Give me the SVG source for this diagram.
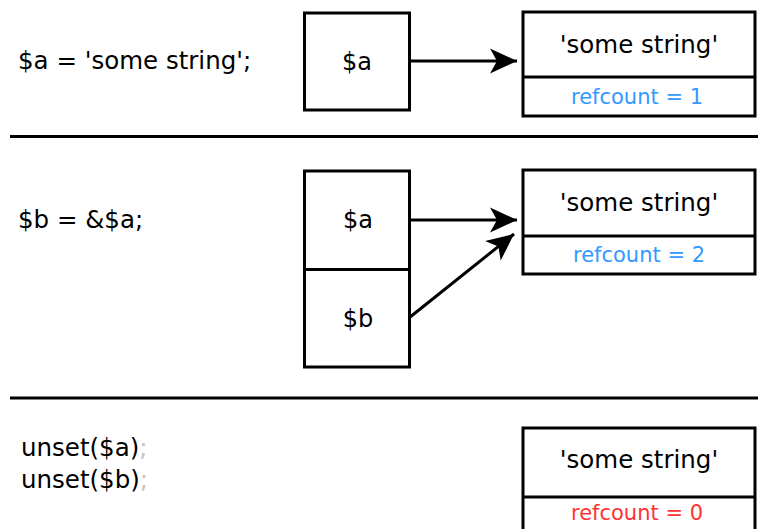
<svg xmlns="http://www.w3.org/2000/svg" width="758" height="529" viewBox="0 0 758 529">
  <style>
    text { font-family: "DejaVu Sans", "Verdana", sans-serif; fill: #000; }
    .code { font-size: 24.5px; }
    .var { font-size: 24px; text-anchor: middle; }
    .val { font-size: 24.5px; text-anchor: middle; }
    .rc { font-size: 21px; text-anchor: middle; }
    .rc-live { fill: #3399ff; }
    .rc-dead { fill: #ff3333; }
    .faint { fill: #c4c4c4; }
    .box { fill: #fff; stroke: #000; stroke-width: 3; }
    .div { stroke: #000; stroke-width: 3; }
    .sep { stroke: #000; stroke-width: 3; }
    .edge { fill: none; stroke: #000; stroke-width: 3; }
  </style>
  <defs>
    <marker id="arrow" markerUnits="userSpaceOnUse" markerWidth="30" markerHeight="28" refX="28" refY="13" orient="auto" viewBox="0 0 30 28">
      <path d="M28,13 L1,0.5 L8,13 L1,25.5 Z" fill="#000"/>
    </marker>
  </defs>

  <rect width="758" height="529" fill="#fff"/>

  <!-- section dividers -->
  <g id="separators">
    <line class="sep" x1="10" y1="136.5" x2="758" y2="136.5"/>
    <line class="sep" x1="10" y1="398" x2="758" y2="398"/>
  </g>

  <!-- code statements -->
  <g id="code">
    <text class="code" x="18" y="69">$a = 'some string';</text>
    <text class="code" x="18" y="228">$b = &amp;$a;</text>
    <text class="code" x="21" y="456">unset($a)<tspan class="faint">;</tspan></text>
    <text class="code" x="21" y="488">unset($b)<tspan class="faint">;</tspan></text>
  </g>

  <!-- step 1: $a -> zval -->
  <g id="var-a1">
    <rect class="box" x="304.5" y="13" width="105" height="97"/>
    <text class="var" x="357" y="70">$a</text>
  </g>
  <g id="zval-1">
    <rect class="box" x="523" y="12" width="232" height="104"/>
    <line class="div" x1="523" y1="77" x2="755" y2="77"/>
    <text class="val" x="639" y="53">'some string'</text>
    <text class="rc rc-live" x="637" y="104">refcount = 1</text>
  </g>

  <!-- step 2: $a and $b -> shared zval -->
  <g id="vars-ab">
    <rect class="box" x="304.5" y="171" width="105" height="196"/>
    <line class="div" x1="304.5" y1="269.5" x2="409.5" y2="269.5"/>
    <text class="var" x="358" y="228">$a</text>
    <text class="var" x="358" y="327">$b</text>
  </g>
  <g id="zval-2">
    <rect class="box" x="523" y="170" width="232" height="104"/>
    <line class="div" x1="523" y1="236" x2="755" y2="236"/>
    <text class="val" x="639" y="211">'some string'</text>
    <text class="rc rc-live" x="639" y="262">refcount = 2</text>
  </g>

  <!-- step 3: orphaned zval -->
  <g id="zval-3">
    <rect class="box" x="523" y="428" width="232" height="110"/>
    <line class="div" x1="523" y1="497" x2="755" y2="497"/>
    <text class="val" x="639" y="468">'some string'</text>
    <text class="rc rc-dead" x="637" y="520">refcount = 0</text>
  </g>

  <!-- references -->
  <g id="connectors">
    <line class="edge" x1="409.5" y1="61" x2="517" y2="61" marker-end="url(#arrow)"/>
    <line class="edge" x1="409.5" y1="220" x2="517" y2="220" marker-end="url(#arrow)"/>
    <line class="edge" x1="409.5" y1="317.5" x2="514" y2="234" marker-end="url(#arrow)"/>
  </g>
</svg>
